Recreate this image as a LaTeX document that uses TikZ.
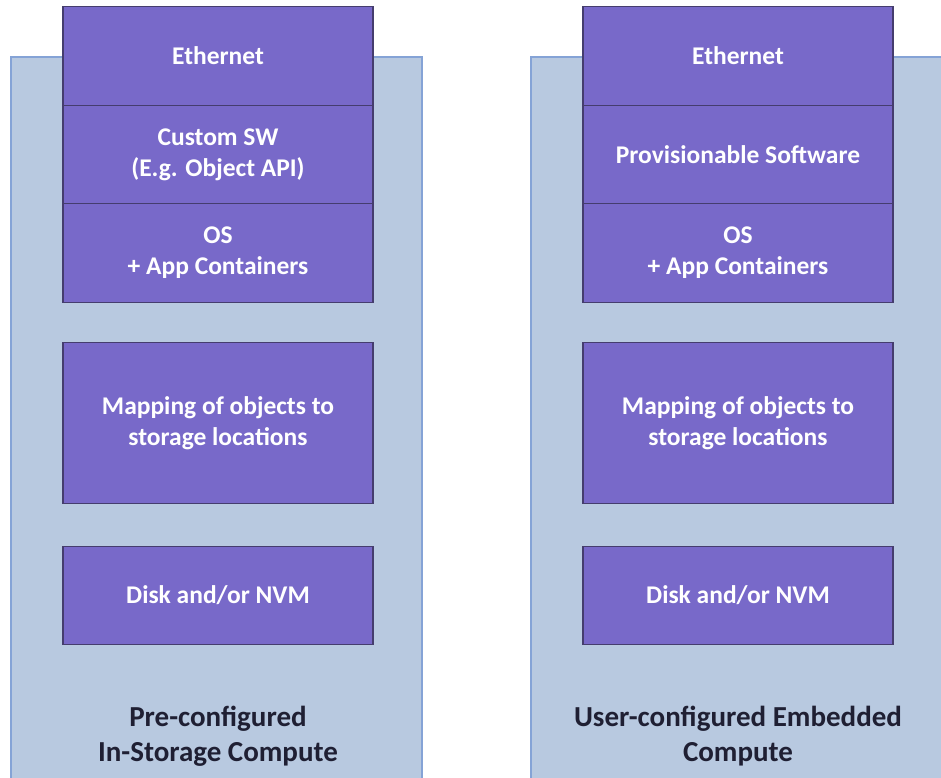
\documentclass[tikz,border=0pt]{standalone}
\usepackage{fontspec}
\setmainfont{Carlito}
\usetikzlibrary{positioning}
\begin{document}
\begin{tikzpicture}[x=1pt, y=1pt,
    layer/.style={draw=my-edge, line width=1.2pt, fill=my-violet, text=white,
      minimum width=310pt, minimum height=98.5pt, inner sep=0pt, outer sep=0pt, align=center,
      font=\fontsize{25.5}{31}\selectfont\bfseries},
    caption/.style={align=center, text=my-dark, font=\fontsize{29}{35}\selectfont\bfseries}]
    \definecolor{my-violet}{rgb}{0.47,0.41,0.79}
    \definecolor{my-edge}{rgb}{0.27,0.24,0.43}
    \definecolor{my-panel}{rgb}{0.72,0.79,0.88}
    \definecolor{my-rim}{rgb}{0.52,0.64,0.84}
    \definecolor{my-dark}{rgb}{0.12,0.12,0.2}
    \useasboundingbox (0,0) rectangle (941,777);
    % the two housings
    \begin{scope}
      \clip (0,0) rectangle (941,777);
      \draw[fill=my-panel, draw=my-rim, line width=1.5pt] (11,-5) rectangle (422,720);
      \draw[fill=my-panel, draw=my-rim, line width=1.5pt] (531,-5) rectangle (950,720);
    \end{scope}
    % left stack
    \node[layer] (ethA) at (218,721) {Ethernet};
    \node[layer, below=0pt of ethA] (swA) {Custom SW\\(E.g. Object API)};
    \node[layer, below=0pt of swA] (osA) {OS\\+ App Containers};
    \node[layer, below=40pt of osA, minimum height=161pt] (mapA) {Mapping of objects to\\storage locations};
    \node[layer, below=43pt of mapA] (diskA) {Disk and/or NVM};
    \node[caption] (capA) at (218,41) {Pre-configured\\In-Storage Compute};
    % right stack
    \node[layer] (ethB) at (738,721) {Ethernet};
    \node[layer, below=0pt of ethB] (swB) {Provisionable Software};
    \node[layer, below=0pt of swB] (osB) {OS\\+ App Containers};
    \node[layer, below=40pt of osB, minimum height=161pt] (mapB) {Mapping of objects to\\storage locations};
    \node[layer, below=43pt of mapB] (diskB) {Disk and/or NVM};
    \node[caption] (capB) at (738,41) {User-configured Embedded\\Compute};
  \end{tikzpicture}
\end{document}
